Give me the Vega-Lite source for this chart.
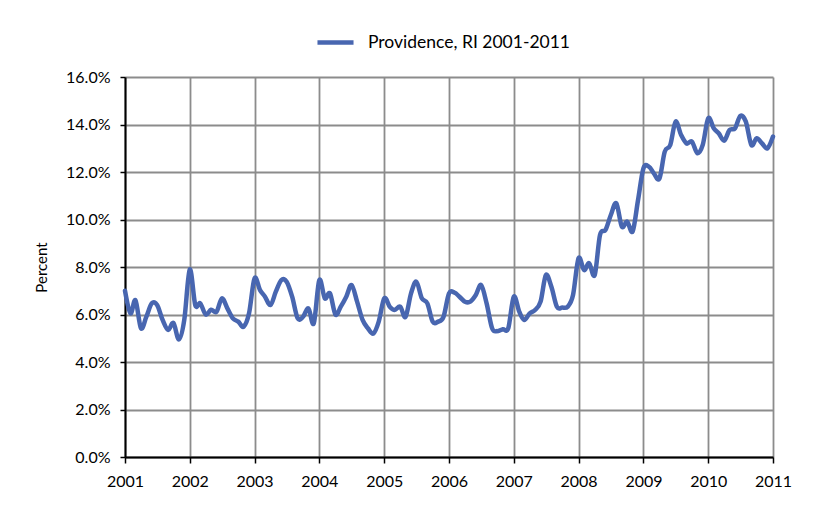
{
  "$schema": "https://vega.github.io/schema/vega-lite/v6.json",
  "autosize": "none",
  "width": 648,
  "height": 380,
  "padding": {"left": 125, "top": 77, "right": 44, "bottom": 58},
  "background": "white",
  "config": {
    "view": {"stroke": null},
    "font": "Lato",
    "axis": {"labelFont": "Lato", "titleFont": "Lato", "labelFontSize": 16, "titleFontSize": 15, "labelColor": "#000", "titleColor": "#000", "titleFontWeight": "normal"},
    "legend": {"labelFont": "Lato", "labelFontSize": 17.5, "labelColor": "#000", "labelLimit": 500}
  },
  "data": {"values": [
    {"date": "2001-01-01", "rate": 7.0}, {"date": "2001-02-01", "rate": 6.05}, {"date": "2001-03-01", "rate": 6.6}, {"date": "2001-04-01", "rate": 5.42}, {"date": "2001-05-01", "rate": 5.9}, {"date": "2001-06-01", "rate": 6.47}, {"date": "2001-07-01", "rate": 6.4}, {"date": "2001-08-01", "rate": 5.77}, {"date": "2001-09-01", "rate": 5.35}, {"date": "2001-10-01", "rate": 5.64}, {"date": "2001-11-01", "rate": 4.95}, {"date": "2001-12-01", "rate": 5.77},
    {"date": "2002-01-01", "rate": 7.9}, {"date": "2002-02-01", "rate": 6.4}, {"date": "2002-03-01", "rate": 6.47}, {"date": "2002-04-01", "rate": 6.0}, {"date": "2002-05-01", "rate": 6.2}, {"date": "2002-06-01", "rate": 6.12}, {"date": "2002-07-01", "rate": 6.68}, {"date": "2002-08-01", "rate": 6.26}, {"date": "2002-09-01", "rate": 5.84}, {"date": "2002-10-01", "rate": 5.7}, {"date": "2002-11-01", "rate": 5.49}, {"date": "2002-12-01", "rate": 6.05},
    {"date": "2003-01-01", "rate": 7.52}, {"date": "2003-02-01", "rate": 7.03}, {"date": "2003-03-01", "rate": 6.75}, {"date": "2003-04-01", "rate": 6.4}, {"date": "2003-05-01", "rate": 6.96}, {"date": "2003-06-01", "rate": 7.45}, {"date": "2003-07-01", "rate": 7.38}, {"date": "2003-08-01", "rate": 6.75}, {"date": "2003-09-01", "rate": 5.84}, {"date": "2003-10-01", "rate": 5.9}, {"date": "2003-11-01", "rate": 6.26}, {"date": "2003-12-01", "rate": 5.63},
    {"date": "2004-01-01", "rate": 7.45}, {"date": "2004-02-01", "rate": 6.68}, {"date": "2004-03-01", "rate": 6.89}, {"date": "2004-04-01", "rate": 6.0}, {"date": "2004-05-01", "rate": 6.33}, {"date": "2004-06-01", "rate": 6.75}, {"date": "2004-07-01", "rate": 7.24}, {"date": "2004-08-01", "rate": 6.54}, {"date": "2004-09-01", "rate": 5.77}, {"date": "2004-10-01", "rate": 5.42}, {"date": "2004-11-01", "rate": 5.2}, {"date": "2004-12-01", "rate": 5.7},
    {"date": "2005-01-01", "rate": 6.68}, {"date": "2005-02-01", "rate": 6.33}, {"date": "2005-03-01", "rate": 6.19}, {"date": "2005-04-01", "rate": 6.33}, {"date": "2005-05-01", "rate": 5.9}, {"date": "2005-06-01", "rate": 6.89}, {"date": "2005-07-01", "rate": 7.38}, {"date": "2005-08-01", "rate": 6.68}, {"date": "2005-09-01", "rate": 6.47}, {"date": "2005-10-01", "rate": 5.7}, {"date": "2005-11-01", "rate": 5.7}, {"date": "2005-12-01", "rate": 5.9},
    {"date": "2006-01-01", "rate": 6.89}, {"date": "2006-02-01", "rate": 6.92}, {"date": "2006-03-01", "rate": 6.75}, {"date": "2006-04-01", "rate": 6.54}, {"date": "2006-05-01", "rate": 6.54}, {"date": "2006-06-01", "rate": 6.82}, {"date": "2006-07-01", "rate": 7.24}, {"date": "2006-08-01", "rate": 6.47}, {"date": "2006-09-01", "rate": 5.42}, {"date": "2006-10-01", "rate": 5.3}, {"date": "2006-11-01", "rate": 5.38}, {"date": "2006-12-01", "rate": 5.42},
    {"date": "2007-01-01", "rate": 6.75}, {"date": "2007-02-01", "rate": 6.12}, {"date": "2007-03-01", "rate": 5.77}, {"date": "2007-04-01", "rate": 6.05}, {"date": "2007-05-01", "rate": 6.19}, {"date": "2007-06-01", "rate": 6.54}, {"date": "2007-07-01", "rate": 7.66}, {"date": "2007-08-01", "rate": 7.17}, {"date": "2007-09-01", "rate": 6.33}, {"date": "2007-10-01", "rate": 6.29}, {"date": "2007-11-01", "rate": 6.33}, {"date": "2007-12-01", "rate": 6.82},
    {"date": "2008-01-01", "rate": 8.37}, {"date": "2008-02-01", "rate": 7.87}, {"date": "2008-03-01", "rate": 8.16}, {"date": "2008-04-01", "rate": 7.66}, {"date": "2008-05-01", "rate": 9.35}, {"date": "2008-06-01", "rate": 9.56}, {"date": "2008-07-01", "rate": 10.19}, {"date": "2008-08-01", "rate": 10.68}, {"date": "2008-09-01", "rate": 9.7}, {"date": "2008-10-01", "rate": 9.91}, {"date": "2008-11-01", "rate": 9.5}, {"date": "2008-12-01", "rate": 10.8},
    {"date": "2009-01-01", "rate": 12.16}, {"date": "2009-02-01", "rate": 12.22}, {"date": "2009-03-01", "rate": 11.94}, {"date": "2009-04-01", "rate": 11.73}, {"date": "2009-05-01", "rate": 12.86}, {"date": "2009-06-01", "rate": 13.14}, {"date": "2009-07-01", "rate": 14.12}, {"date": "2009-08-01", "rate": 13.56}, {"date": "2009-09-01", "rate": 13.2}, {"date": "2009-10-01", "rate": 13.28}, {"date": "2009-11-01", "rate": 12.79}, {"date": "2009-12-01", "rate": 13.14},
    {"date": "2010-01-01", "rate": 14.26}, {"date": "2010-02-01", "rate": 13.84}, {"date": "2010-03-01", "rate": 13.63}, {"date": "2010-04-01", "rate": 13.32}, {"date": "2010-05-01", "rate": 13.77}, {"date": "2010-06-01", "rate": 13.84}, {"date": "2010-07-01", "rate": 14.36}, {"date": "2010-08-01", "rate": 14.12}, {"date": "2010-09-01", "rate": 13.14}, {"date": "2010-10-01", "rate": 13.42}, {"date": "2010-11-01", "rate": 13.2}, {"date": "2010-12-01", "rate": 13.0},
    {"date": "2011-01-01", "rate": 13.49}
  ]},
  "mark": {"type": "line", "interpolate": "cardinal", "strokeWidth": 4.5, "strokeCap": "round", "strokeJoin": "round"},
  "encoding": {
    "x": {
      "field": "date", "type": "temporal",
      "scale": {"type": "utc", "domain": [{"year": 2001, "month": 1, "date": 1, "utc": true}, {"year": 2011, "month": 1, "date": 1, "utc": true}], "nice": false},
      "axis": {"title": null, "format": "%Y", "tickCount": {"interval": "year", "step": 1}, "domainColor": "#000", "domainWidth": 2, "tickColor": "#000", "tickWidth": 1.5, "tickSize": 6, "gridColor": "#8c8c8c", "gridWidth": 1.8, "gridOpacity": 1, "labelPadding": 10, "labelFlush": false}
    },
    "y": {
      "field": "rate", "type": "quantitative",
      "scale": {"domain": [0, 16], "nice": false},
      "axis": {"title": "Percent", "titleAngle": -90, "titlePadding": 16, "values": [0, 2, 4, 6, 8, 10, 12, 14, 16], "labelExpr": "format(datum.value, '.1f') + '%'", "domainColor": "#000", "domainWidth": 2, "tickColor": "#000", "tickWidth": 1.5, "tickSize": 5, "gridColor": "#8c8c8c", "gridWidth": 1.8, "gridOpacity": 1, "labelPadding": 10}
    },
    "color": {
      "datum": "Providence, RI 2001-2011",
      "scale": {"range": ["#4866b0"]},
      "legend": {"title": null, "orient": "none", "legendX": 190, "legendY": -55, "symbolType": "stroke", "symbolSize": 1300, "symbolStrokeWidth": 4.5, "labelOffset": 12}
    }
  }
}
